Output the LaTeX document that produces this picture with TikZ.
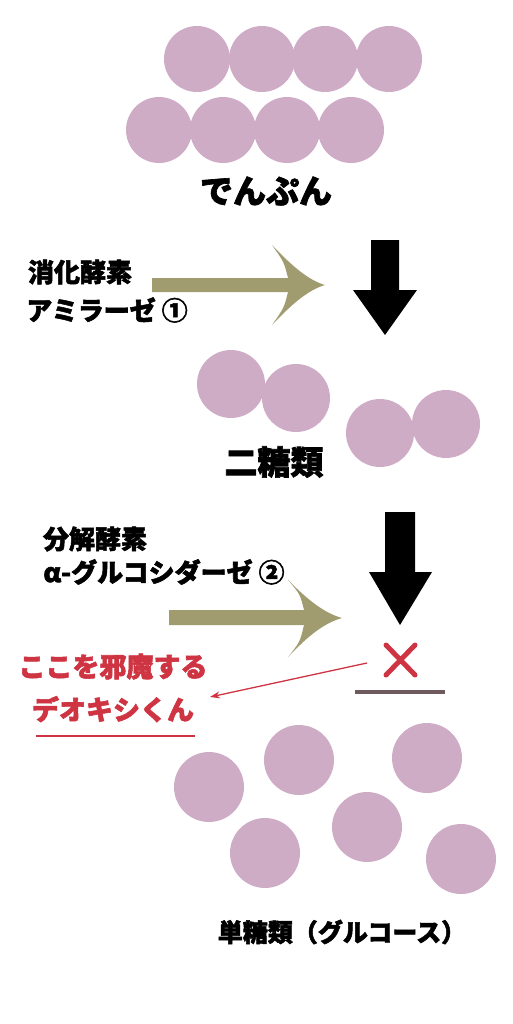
\documentclass[tikz,border=0pt]{standalone}
\usepackage{fontspec}
\newfontfamily\jp{Noto Sans CJK JP}[BoldFeatures={FakeBold=2}]
\usetikzlibrary{arrows.meta}
\definecolor{toucolor}{HTML}{CFACC6}
\definecolor{kaki}{HTML}{A09C70}
\definecolor{aka}{HTML}{CF3443}
\definecolor{bar}{HTML}{6E5A5C}
\tikzset{
  moji/.style={font=\jp\bfseries, inner sep=0pt},
  akamoji/.style={moji, text=aka},
  tou/.style={fill=toucolor}
}
\begin{document}
\begin{tikzpicture}[x=1pt,y=-1pt]
  \useasboundingbox (0,0) rectangle (512,1024);
  % でんぷん
  \foreach \x in {197,262,325,389} \fill[tou] (\x,59) circle (33pt);
  \foreach \x in {159,223,287,351} \fill[tou] (\x,130) circle (33pt);
  \node[moji, font=\jp\bfseries\fontsize{33}{36}\selectfont] (denpun) at (266,191) {でんぷん};
  % 消化酵素
  \node[moji, font=\jp\bfseries\fontsize{26}{30}\selectfont] (shouka) at (80,272) {消化酵素};
  \node[moji, font=\jp\bfseries\fontsize{26}{30}\selectfont] (amirase) at (107,310) {アミラーゼ ①};
  \fill[kaki] (152,278) -- (288,278) .. controls (284,262) .. (272,245)
    .. controls (292,266) and (308,280) .. (325,285)
    .. controls (308,290) and (292,304) .. (272,325)
    .. controls (284,308) .. (288,292) -- (152,292) -- cycle;
  \fill (371,240) -- (399,240) -- (399,290) -- (417,290) -- (385,335)
    -- (353,290) -- (371,290) -- cycle;
  % 二糖類
  \fill[tou] (231,384) circle (34pt);
  \fill[tou] (296,398) circle (34pt);
  \fill[tou] (380,433) circle (34pt);
  \fill[tou] (446,424) circle (34pt);
  \node[moji, font=\jp\bfseries\fontsize{33}{36}\selectfont] (nitou) at (274,462) {二糖類};
  % 分解酵素
  \node[moji, font=\jp\bfseries\fontsize{26}{30}\selectfont] (bunkai) at (95,539) {分解酵素};
  \node[moji, font=\jp\bfseries\fontsize{26}{30}\selectfont] (gluco) at (164,572) {α-グルコシダーゼ ②};
  \fill[kaki] (169,610) -- (304,610) .. controls (300,594) .. (288,580)
    .. controls (308,600) and (324,613) .. (342,618)
    .. controls (324,623) and (308,636) .. (288,657)
    .. controls (300,642) .. (304,625) -- (169,625) -- cycle;
  \fill (385,512) -- (415,512) -- (415,572) -- (432,572) -- (400,625)
    -- (369,572) -- (385,572) -- cycle;
  % 邪魔
  \draw[aka, line width=5pt, line cap=round] (386,645) -- (415,675) (415,645) -- (386,675);
  \draw[bar, line width=4pt] (355,692) -- (445,692);
  \node[akamoji, align=center, font=\jp\bfseries\fontsize{27}{43}\selectfont] (jama) at (113,688) {ここを邪魔する\\デオキシくん};
  \coordinate (batsu) at (367,663);
  \coordinate (jamahead) at (210,697);
  \draw[aka, line width=1.3pt, -{Stealth[length=10pt,width=7pt]}] (batsu) -- (jamahead);
  \draw[aka, line width=2pt] (36,736) -- (195,736);
  % 単糖類
  \foreach \p in {(209,787),(299,760),(427,758),(265,853),(367,827),(461,859)}
    \fill[tou] \p circle (35pt);
  \node[moji, font=\jp\bfseries\fontsize{25}{30}\selectfont] (tantou) at (342,932) {単糖類（グルコース）};
\end{tikzpicture}
\end{document}
